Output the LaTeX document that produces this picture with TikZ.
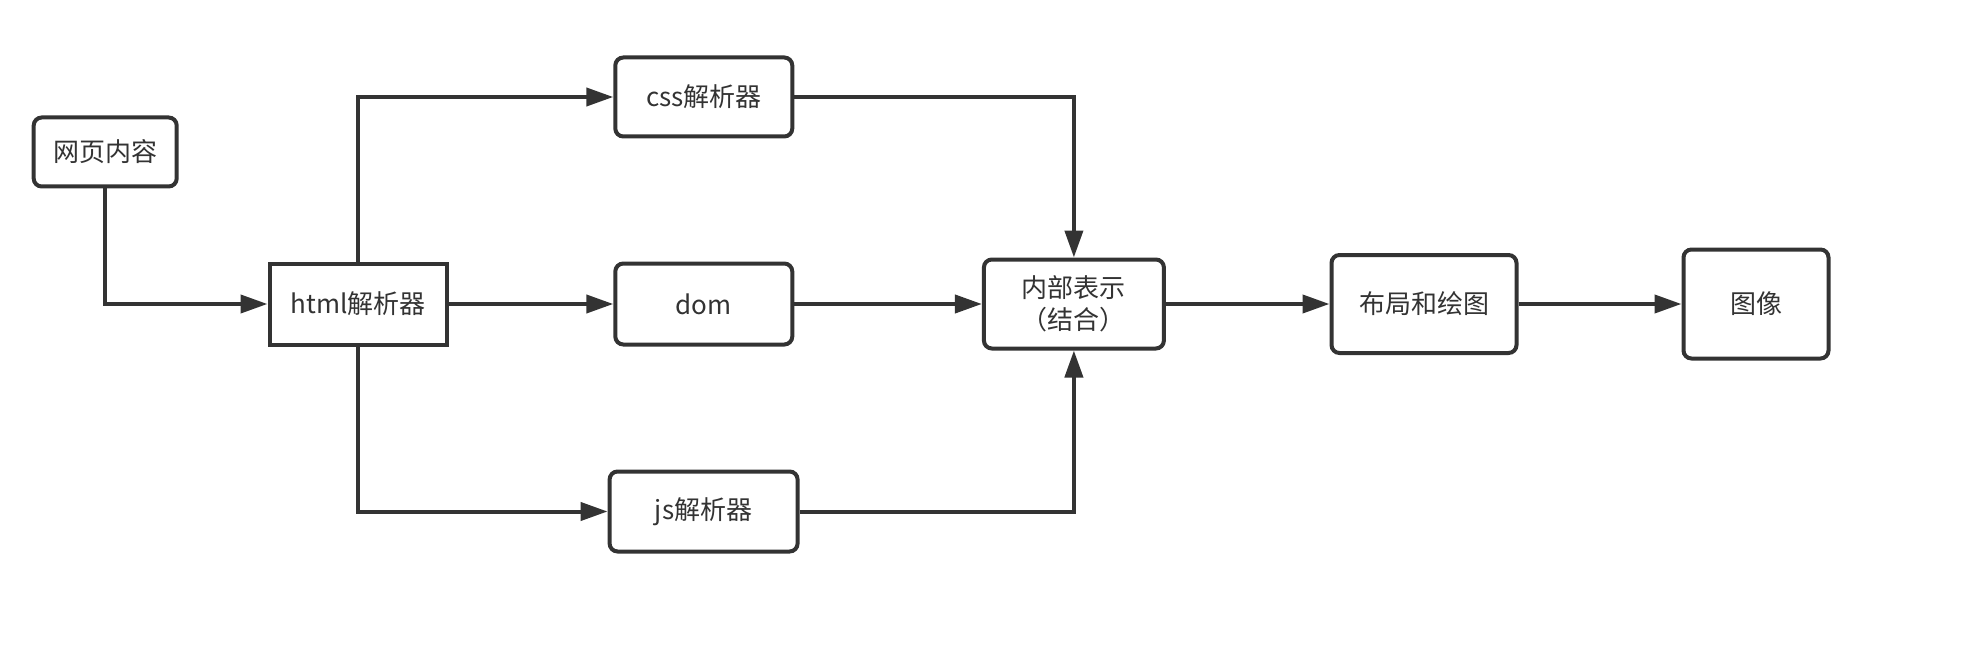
\documentclass[tikz,border=0pt]{standalone}
\usepackage{fontspec}
\setmainfont{Noto Sans CJK SC}
\usetikzlibrary{arrows.meta}
\definecolor{ink}{HTML}{333333}
\begin{document}
\begin{tikzpicture}[x=1pt,y=-1pt,
  box/.style={draw=ink, line width=4pt, rounded corners=8pt, inner sep=0pt, align=center, text=ink, font=\fontsize{26}{31.5}\selectfont},
  sqbox/.style={box, sharp corners},
  conn/.style={draw=ink, line width=4pt, -{Triangle[length=27pt,width=18pt]}}]
\useasboundingbox[fill=white] (0,0) rectangle (1982,650);
\node[box, minimum width=143pt, minimum height=69pt] (web) at (105.2,152) {网页内容};
\node[sqbox, minimum width=177pt, minimum height=81pt] (html) at (358,304) {html解析器};
\node[box, minimum width=177pt, minimum height=79pt] (css) at (703.8,97) {css解析器};
\node[box, minimum width=177pt, minimum height=81pt] (dom) at (703.8,304) {dom};
\node[box, minimum width=188pt, minimum height=80pt] (js) at (703.6,511.5) {js解析器};
\node[box, minimum width=180pt, minimum height=89pt] (inner) at (1073.9,304) {内部表示\\（结合）};
\node[box, minimum width=185pt, minimum height=98pt] (layout) at (1424,304) {布局和绘图};
\node[box, minimum width=145pt, minimum height=109pt] (image) at (1756,304) {图像};
\draw[conn] (web.south) |- (html.west);
\draw[conn] (html.north) |- (css.west);
\draw[conn] (html.east) -- (dom.west);
\draw[conn] (html.south) |- (js.west);
\draw[conn] (css.east) -| (inner.north);
\draw[conn] (dom.east) -- (inner.west);
\draw[conn] (js.east) -| (inner.south);
\draw[conn] (inner.east) -- (layout.west);
\draw[conn] (layout.east) -- (image.west);
\end{tikzpicture}
\end{document}
